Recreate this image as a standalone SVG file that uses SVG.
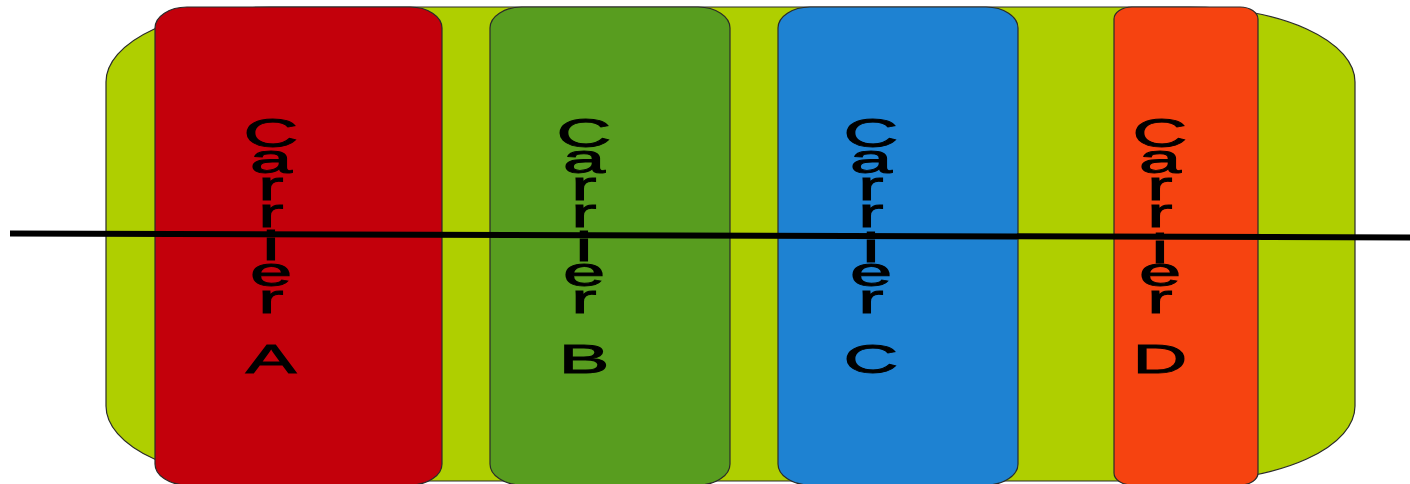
<svg xmlns="http://www.w3.org/2000/svg" width="1410" height="484" viewBox="0 0 1410 484">
<style>
.shape{stroke:#2a2a2a;stroke-width:1.2}
.lbl{font-family:"Liberation Sans",Arial,sans-serif;font-size:41px;fill:#000;stroke:#000;stroke-width:0.9;text-anchor:middle}
</style>
<rect width="1410" height="484" fill="#ffffff"/>
<g id="band">
<rect class="shape" x="106" y="7" width="1249" height="474" rx="165" ry="75" fill="#AFCF00"/>
</g>
<g id="carrierA">
<rect class="shape" x="155" y="7" width="287" height="478" rx="32" ry="21" fill="#C3000B"/>
<g transform="translate(271,0) scale(1.85,1)">
<text class="lbl"><tspan x="0" y="147">C</tspan><tspan x="0" y="173">a</tspan><tspan x="0" y="200">r</tspan><tspan x="0" y="227">r</tspan><tspan x="0" y="260.5">i</tspan><tspan x="0" y="286">e</tspan><tspan x="0" y="313">r</tspan><tspan x="0" y="373">A</tspan></text>
</g>
</g>
<g id="carrierB">
<rect class="shape" x="490" y="7" width="240" height="478" rx="32" ry="21" fill="#589D1F"/>
<g transform="translate(584,0) scale(1.85,1)">
<text class="lbl"><tspan x="0" y="147">C</tspan><tspan x="0" y="173">a</tspan><tspan x="0" y="200">r</tspan><tspan x="0" y="227">r</tspan><tspan x="0" y="261.5">i</tspan><tspan x="0" y="286">e</tspan><tspan x="0" y="313">r</tspan><tspan x="0" y="373">B</tspan></text>
</g>
</g>
<g id="carrierC">
<rect class="shape" x="778" y="7" width="240" height="478" rx="32" ry="21" fill="#1E82D2"/>
<g transform="translate(871,0) scale(1.85,1)">
<text class="lbl"><tspan x="0" y="147">C</tspan><tspan x="0" y="173">a</tspan><tspan x="0" y="200">r</tspan><tspan x="0" y="227">r</tspan><tspan x="0" y="262.5">i</tspan><tspan x="0" y="286">e</tspan><tspan x="0" y="313">r</tspan><tspan x="0" y="373">C</tspan></text>
</g>
</g>
<g id="carrierD">
<rect class="shape" x="1114" y="7" width="144" height="478" rx="18" ry="12" fill="#F64310"/>
<g transform="translate(1160,0) scale(1.85,1)">
<text class="lbl"><tspan x="0" y="147">C</tspan><tspan x="0" y="173">a</tspan><tspan x="0" y="200">r</tspan><tspan x="0" y="227">r</tspan><tspan x="0" y="263">i</tspan><tspan x="0" y="286">e</tspan><tspan x="0" y="313">r</tspan><tspan x="0" y="373">D</tspan></text>
</g>
</g>
<g id="connectors">
<line x1="10" y1="233.5" x2="1410" y2="237.5" stroke="#000" stroke-width="6"/>
</g>
</svg>
